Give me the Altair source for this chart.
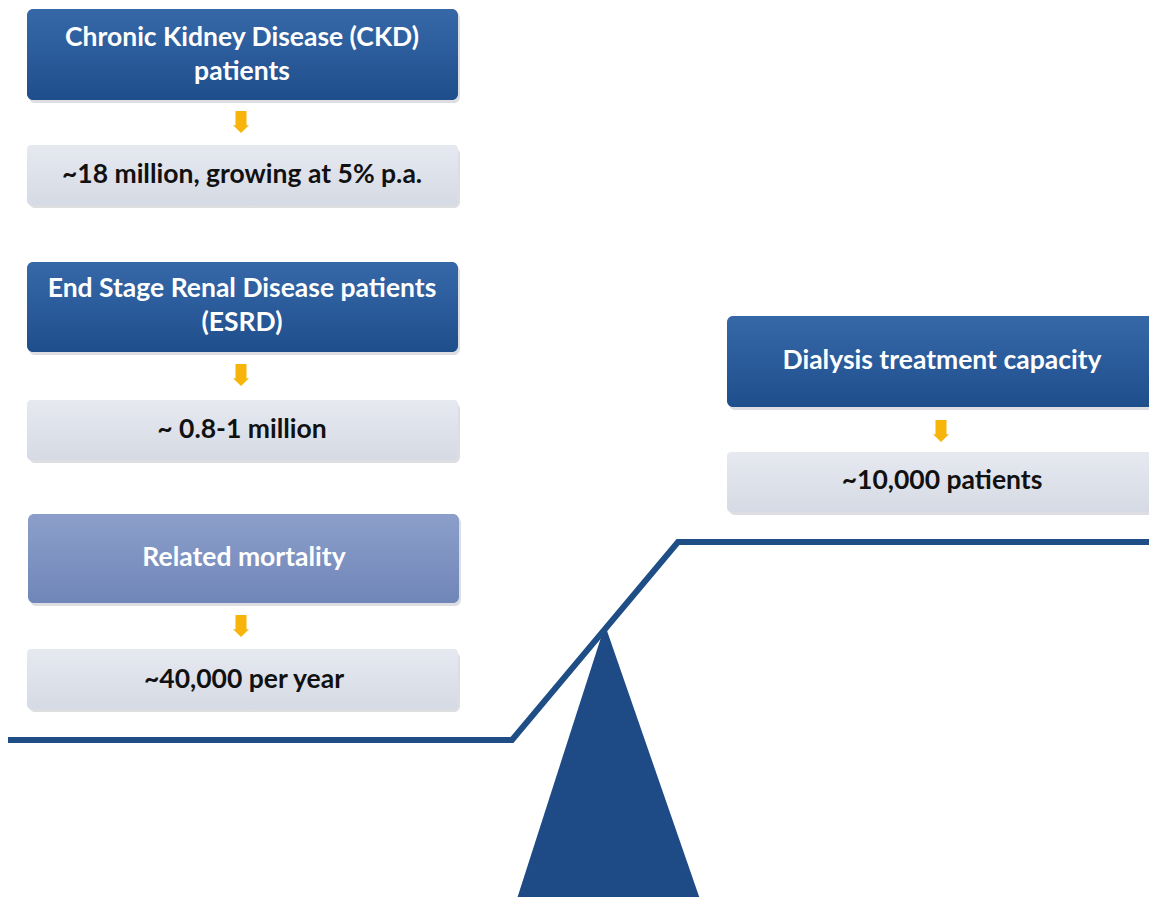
import altair as alt
import pandas as pd

# ---- content ----
header_lines = ["Chronic Kidney Disease (CKD)", "patients",
                "End Stage Renal Disease patients", "(ESRD)",
                "Related mortality", "Dialysis treatment capacity"]
value_lines = ["~18 million, growing at 5% p.a.", "~ 0.8-1 million",
               "~40,000 per year", "~10,000 patients"]

# ---- layout (page pixels) ----
dark_x = [27, 27, 727]
dark_x2 = [458, 458, 1157]
dark_y = [9, 262, 316]
dark_y2 = [100, 352, 407]

light_x, light_x2, light_y, light_y2 = [28], [459], [514], [603]

gray_x = [27, 27, 27, 727]
gray_x2 = [458, 458, 458, 1157]
gray_y = [145, 400, 649, 452]
gray_y2 = [205, 460, 709, 512]

head_tx = [242, 242, 242, 242, 244, 942]
head_ty = [38, 72, 289, 323, 558, 361]
val_tx = [242, 242, 244, 942]
val_ty = [175, 430, 680, 481]

arrow_x = [241, 241, 241, 941]
arrow_y = [122, 375, 626, 431]

beam_x = [8, 512, 678, 1160]
beam_y = [740, 740, 542, 542]

tri_x = [515, 605, 702]
tri_y = [905, 625, 905]
tri_base = [905, 905, 905]

W, H = 1141, 889
xs = alt.Scale(domain=[8, 8 + W])
ys = alt.Scale(domain=[8, 8 + H], reverse=True)
FONT = "Lato"
FS = 26.5


def X(f="x"):
    return alt.X(f"{f}:Q", scale=xs, axis=None)


def Y(f="y"):
    return alt.Y(f"{f}:Q", scale=ys, axis=None)


dark = pd.DataFrame({"x": dark_x, "x2": dark_x2, "y": dark_y, "y2": dark_y2})
light = pd.DataFrame({"x": light_x, "x2": light_x2, "y": light_y, "y2": light_y2})
gray = pd.DataFrame({"x": gray_x, "x2": gray_x2, "y": gray_y, "y2": gray_y2})
shadow = pd.concat([dark, light, gray], ignore_index=True)
shadow = shadow.assign(x=shadow.x + 2, x2=shadow.x2 + 2, y=shadow.y + 3, y2=shadow.y2 + 3)

heads = pd.DataFrame({"t": header_lines, "x": head_tx, "y": head_ty})
vals = pd.DataFrame({"t": value_lines, "x": val_tx, "y": val_ty})
arrows = pd.DataFrame({"x": arrow_x, "y": arrow_y})
beam = pd.DataFrame({"x": beam_x, "y": beam_y, "o": list(range(len(beam_x)))})
tri = pd.DataFrame({"x": tri_x, "y": tri_y, "y2": tri_base})


def grad(c1, c2):
    return alt.Gradient(gradient="linear",
                        stops=[alt.GradientStop(color=c1, offset=0),
                               alt.GradientStop(color=c2, offset=1)],
                        x1=0, x2=0, y1=0, y2=1)


def boxes(df, color, r=6, opacity=1):
    return alt.Chart(df).mark_rect(color=color, cornerRadius=r, opacity=opacity).encode(
        x=X(), x2="x2:Q", y=Y(), y2="y2:Q")


shadow_l = boxes(shadow, "#9aa0ab", opacity=0.35)
dark_l = boxes(dark, grad("#3668a8", "#1f4e8c"))
light_l = boxes(light, grad("#8c9fcb", "#7086b8"))
gray_l = boxes(gray, grad("#e6e9f0", "#d6dae4"), r=4)

head_l = alt.Chart(heads).mark_text(font=FONT, fontWeight="bold", fontSize=FS,
                                    color="white", baseline="middle").encode(
    x=X(), y=Y(), text="t:N")
val_l = alt.Chart(vals).mark_text(font=FONT, fontWeight="bold", fontSize=FS,
                                  color="#111111", baseline="middle").encode(
    x=X(), y=Y(), text="t:N")

arrow_path = "M-0.5,-1 L0.5,-1 L0.5,0.3 L0.72,0.3 L0,1 L-0.72,0.3 L-0.5,0.3 Z"
arrow_l = alt.Chart(arrows).mark_point(shape=arrow_path, filled=True, size=484,
                                       color="#f7b40a", opacity=1).encode(
    x=X(), y=Y())

tri_l = alt.Chart(tri).mark_area(color="#1e4b85").encode(
    x=X(), y=Y(), y2="y2:Q")
beam_l = alt.Chart(beam).mark_line(color="#1f4e87", strokeWidth=6,
                                   strokeJoin="miter").encode(
    x=X(), y=Y(), order="o:Q")

chart = alt.layer(shadow_l, dark_l, light_l, gray_l, head_l, val_l, arrow_l,
                  tri_l, beam_l).properties(
    width=W, height=H, padding=0, autosize="none", background="white"
).configure_view(stroke=None)

chart.save("out.html", embed_options={"renderer": "svg", "actions": False})
